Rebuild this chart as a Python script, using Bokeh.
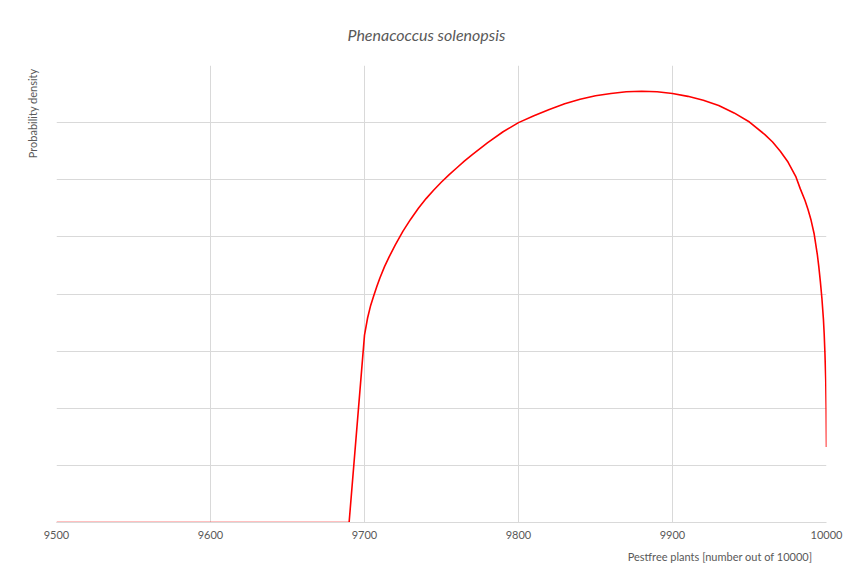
from bokeh.plotting import figure
from bokeh.models import Range1d, FixedTicker, Title
from bokeh.embed import file_html
from bokeh.resources import INLINE

# Data
pestfree = [9500, 9690, 9700, 9702, 9704, 9706, 9708, 9710, 9713, 9716,
            9720, 9725, 9730, 9735, 9740, 9745, 9750, 9755, 9760, 9765, 9770,
            9780, 9790, 9800, 9810, 9820, 9830, 9840, 9850, 9860, 9870, 9880,
            9890, 9900, 9910, 9920, 9930, 9940, 9950, 9960, 9965, 9970, 9975,
            9980, 9983, 9986, 9988, 9990, 9992, 9994, 9995, 9996, 9997, 9998,
            9998.5, 9999, 9999.5, 9999.8, 10000]
density = [0, 0, 3.28, 3.58, 3.80, 3.97, 4.13, 4.28, 4.48, 4.65,
           4.86, 5.10, 5.31, 5.50, 5.67, 5.82, 5.96, 6.09, 6.21, 6.33, 6.44,
           6.65, 6.84, 7.0, 7.12, 7.23, 7.33, 7.41, 7.47, 7.51, 7.54, 7.55,
           7.54, 7.51, 7.46, 7.39, 7.30, 7.17, 7.01, 6.79, 6.66, 6.50, 6.31,
           6.06, 5.84, 5.64, 5.48, 5.29, 5.05, 4.70, 4.48, 4.22, 3.93, 3.56,
           3.3, 2.95, 2.5, 2.0, 1.32]
x_ticks = [9500, 9600, 9700, 9800, 9900, 10000]
y_grid = [0, 1, 2, 3, 4, 5, 6, 7, 8]

title_text = "Phenacoccus solenopsis"
x_label = "Pestfree plants [number out of 10000]"
y_label = "Probability density"

FONT = "Lato"
GREY = "#595959"
GRID = "#d9d9d9"

p = figure(width=861, height=569, output_backend="svg", toolbar_location=None,
           x_range=Range1d(9500, 10000), y_range=Range1d(0, 8),
           min_border_left=56, min_border_right=35, min_border_top=65,
           min_border_bottom=47)
p.outline_line_color = None
p.background_fill_color = "white"
p.border_fill_color = "white"

p.xaxis.ticker = FixedTicker(ticks=x_ticks)
p.xaxis.major_tick_line_color = None
p.xaxis.major_tick_out = 0
p.xaxis.major_tick_in = 0
p.xaxis.minor_tick_line_color = None
p.xaxis.axis_line_color = GRID
p.xaxis.major_label_text_font = FONT
p.xaxis.major_label_text_font_size = "11px"
p.xaxis.major_label_text_color = GREY
p.xaxis.major_label_standoff = 8

p.yaxis.ticker = FixedTicker(ticks=y_grid)
p.yaxis.visible = False

p.xgrid.ticker = FixedTicker(ticks=x_ticks)
p.ygrid.ticker = FixedTicker(ticks=y_grid)
p.xgrid.grid_line_color = GRID
p.ygrid.grid_line_color = GRID

p.line(pestfree, density, line_color="#ff0000", line_width=1.6,
       line_join="round")

p.add_layout(Title(text=title_text, text_font=FONT, text_font_size="16px",
                   text_font_style="italic", text_color=GREY, align="left",
                   offset=291, standoff=44), "above")
p.add_layout(Title(text=x_label, text_font=FONT, text_font_size="11px",
                   text_font_style="normal", text_color=GREY, align="right",
                   offset=14, standoff=12), "below")
p.add_layout(Title(text=y_label, text_font=FONT, text_font_size="11px",
                   text_font_style="normal", text_color=GREY, align="right",
                   offset=3, standoff=36), "left")

open("out.html", "w").write(file_html(p, INLINE))
